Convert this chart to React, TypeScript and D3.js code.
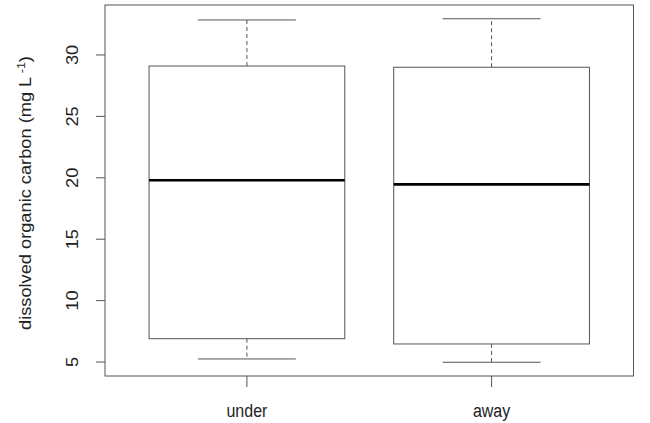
import React from "react";
import { scaleLinear } from "d3";

// box statistics: lower whisker, Q1, median, Q3, upper whisker
const groups = ["under", "away"];
const lowerWhisker = [5.25, 4.98];
const lowerHinge = [6.9, 6.47];
const medians = [19.8, 19.46];
const upperHinge = [29.1, 29.0];
const upperWhisker = [32.85, 32.95];
const yTicks = [5, 10, 15, 20, 25, 30];

const W = 650;
const H = 423;
const plot = { left: 105, right: 633.5, top: 5, bottom: 376 };
// the reference text looks a little stretched vertically
const SY = 1.14;

export default function App() {
  // R style 4% extension of the data range
  const lo = Math.min(...lowerWhisker);
  const hi = Math.max(...upperWhisker);
  const ext = (hi - lo) * 0.04;
  const y = scaleLinear().domain([lo - ext, hi + ext]).range([plot.bottom, plot.top]);
  // groups sit at 1..n on an axis running 0.42..n+0.58
  const x = scaleLinear().domain([0.42, groups.length + 0.58]).range([plot.left, plot.right]);
  const boxW = x(1.4) - x(1);
  const capW = x(1.2) - x(1);
  const font = "Liberation Sans, Arial, Helvetica, sans-serif";
  const line = "#555";

  return (
    <svg width={W} height={H} style={{ position: "absolute", left: 0, top: 0 }} fontFamily={font}>
      <rect x={0} y={0} width={W} height={H} fill="#fff" />
      {groups.map((g, i) => {
        const cx = x(i + 1);
        return (
          <g key={g}>
            <line x1={cx} x2={cx} y1={y(upperHinge[i])} y2={y(upperWhisker[i])} stroke={line} strokeDasharray="4,3" />
            <line x1={cx} x2={cx} y1={y(lowerHinge[i])} y2={y(lowerWhisker[i])} stroke={line} strokeDasharray="4,3" />
            <line x1={cx - capW} x2={cx + capW} y1={y(upperWhisker[i])} y2={y(upperWhisker[i])} stroke={line} />
            <line x1={cx - capW} x2={cx + capW} y1={y(lowerWhisker[i])} y2={y(lowerWhisker[i])} stroke={line} />
            <rect x={cx - boxW} y={y(upperHinge[i])} width={boxW * 2} height={y(lowerHinge[i]) - y(upperHinge[i])} fill="none" stroke={line} />
            <line x1={cx - boxW} x2={cx + boxW} y1={y(medians[i])} y2={y(medians[i])} stroke="#000" strokeWidth={2.6} />
          </g>
        );
      })}
      <rect x={plot.left} y={plot.top} width={plot.right - plot.left} height={plot.bottom - plot.top} fill="none" stroke={line} />
      {/* y axis */}
      {yTicks.map((t) => (
        <g key={t}>
          <line x1={plot.left - 9} x2={plot.left} y1={y(t)} y2={y(t)} stroke={line} />
          <text transform={`translate(78,${y(t)}) scale(1,${SY}) rotate(-90)`} textAnchor="middle" fontSize={16} fill="#222">
            {t}
          </text>
        </g>
      ))}
      {/* x axis */}
      {groups.map((g, i) => (
        <g key={g}>
          <line x1={x(i + 1)} x2={x(i + 1)} y1={plot.bottom} y2={plot.bottom + 11} stroke={line} />
          <text transform={`translate(${x(i + 1)},417) scale(1,${SY})`} textAnchor="middle" fontSize={16} fill="#222">
            {g}
          </text>
        </g>
      ))}
      <text transform={`translate(31,330) scale(1,${SY}) rotate(-90)`} textAnchor="start" fontSize={16} fill="#222">
        dissolved organic carbon (mg L
        <tspan dy={-6} fontSize={11}> -1</tspan>
        <tspan dy={6}>)</tspan>
      </text>
    </svg>
  );
}
